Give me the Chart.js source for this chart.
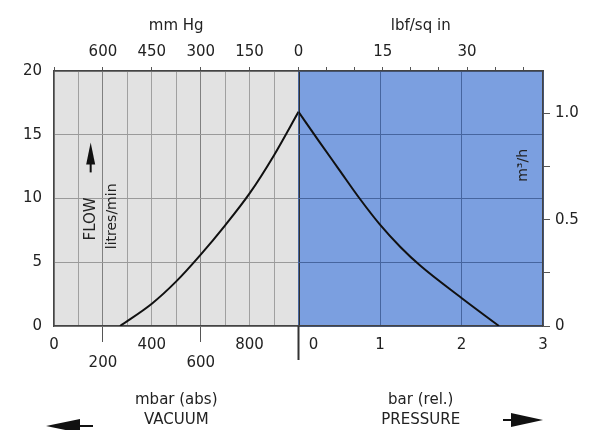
<!DOCTYPE html>
<html>
<head>
<meta charset="utf-8">
<script src="https://cdn.jsdelivr.net/npm/chart.js@4/dist/chart.umd.min.js"></script>
<style>
  html, body { margin: 0; padding: 0; background: #ffffff; }
  #wrap { width: 605px; height: 430px; position: relative; }
</style>
</head>
<body>
<div id="wrap"><canvas id="c" width="605" height="430"></canvas></div>
<script>
// ---- data ----
const vacuumMbar   = [270, 400, 500, 600, 700, 800, 900, 1000];              // mbar (abs)
const vacuumFlow   = [0, 1.75, 3.5, 5.6, 7.9, 10.4, 13.4, 16.8];             // litres/min
const pressureBar  = [0, 0.25, 0.5, 0.75, 1.0, 1.25, 1.5, 2.0, 2.46];        // bar (rel.)
const pressureFlow = [16.8, 14.5, 12.25, 10.0, 7.95, 6.2, 4.7, 2.2, 0];      // litres/min

// ---- tick labels ----
const flowTicks  = [0, 5, 10, 15, 20];
const m3hTicks   = [0, 0.25, 0.5, 0.75, 1.0];
const m3hLabels  = ['0', '', '0.5', '', '1.0'];
const mbarGrid   = [0, 100, 200, 300, 400, 500, 600, 700, 800, 900, 1000];
const mbarUpper  = [0, 400, 800];
const mbarLower  = [200, 600];
const barTicks   = [0, 1, 2, 3];
const mmHgTicks  = [0, 150, 300, 450, 600, 750];
const mmHgLabels = [0, 150, 300, 450, 600];
const psiTicks   = [0, 5, 10, 15, 20, 25, 30, 35, 40];
const psiLabels  = [15, 30];

const FONT = 'DejaVu Sans';
const AX = '#444444';

function gridGradient(c, leftCol, rightCol) {
  const ch = c.chart, a = ch.chartArea;
  if (!a || !ch.scales.xv) return leftCol;
  const xd = ch.scales.xv.getPixelForValue(1000);
  const t = Math.min(1, Math.max(0, (xd - a.left) / (a.right - a.left)));
  const g = ch.ctx.createLinearGradient(a.left, 0, a.right, 0);
  g.addColorStop(0, leftCol); g.addColorStop(t, leftCol);
  g.addColorStop(t, rightCol); g.addColorStop(1, rightCol);
  return g;
}

const decor = {
  id: 'decor',
  beforeDraw(chart) {
    const {ctx, chartArea: a, scales} = chart;
    const xd = scales.xv.getPixelForValue(1000);
    ctx.save();
    ctx.fillStyle = '#e2e2e2';
    ctx.fillRect(a.left, a.top, xd - a.left, a.bottom - a.top);
    ctx.fillStyle = '#7b9fe0';
    ctx.fillRect(xd, a.top, a.right - xd, a.bottom - a.top);
    ctx.restore();
  },
  afterDraw(chart) {
    const {ctx, chartArea: a, scales} = chart;
    const xv = scales.xv, y = scales.y;
    const xd = xv.getPixelForValue(1000);
    ctx.save();
    // divider extension below the axis
    ctx.strokeStyle = '#333';
    ctx.lineWidth = 2;
    ctx.beginPath(); ctx.moveTo(xd, a.bottom); ctx.lineTo(xd, a.bottom + 34); ctx.stroke();

    ctx.fillStyle = '#222';
    ctx.textAlign = 'center';
    ctx.textBaseline = 'middle';
    // FLOW / litres/min rotated label with arrow
    const fx = xv.getPixelForValue(150), fy = y.getPixelForValue(8.4);
    ctx.save();
    ctx.translate(fx, fy); ctx.rotate(-Math.PI / 2);
    ctx.font = '15px "' + FONT + '"';
    ctx.fillText('FLOW', 0, 0);
    ctx.restore();
    const lx = xv.getPixelForValue(240), ly = y.getPixelForValue(8.6);
    ctx.save();
    ctx.translate(lx, ly); ctx.rotate(-Math.PI / 2);
    ctx.font = '14px "' + FONT + '"';
    ctx.fillText('litres/min', 0, 0);
    ctx.restore();
    // up arrow above FLOW
    const tipY = y.getPixelForValue(14.4);
    ctx.fillStyle = '#111';
    ctx.beginPath();
    ctx.moveTo(fx, tipY);
    ctx.lineTo(fx + 4.5, tipY + 22);
    ctx.lineTo(fx - 4.5, tipY + 22);
    ctx.closePath(); ctx.fill();
    ctx.fillRect(fx - 1, tipY + 20, 2, 10);

    // m3/h label inside right edge
    const mx = a.right - 20, my = y.getPixelForValue(12.6);
    ctx.save();
    ctx.translate(mx, my); ctx.rotate(-Math.PI / 2);
    ctx.fillStyle = '#222';
    ctx.font = '14px "' + FONT + '"';
    ctx.fillText('m\u00B3/h', 0, 0);
    ctx.restore();

    // direction arrows at the bottom
    ctx.fillStyle = '#111';
    const ly2 = 426;
    ctx.beginPath();
    ctx.moveTo(a.left - 8, ly2);
    ctx.lineTo(a.left + 26, ly2 - 7);
    ctx.lineTo(a.left + 26, ly2 + 7);
    ctx.closePath(); ctx.fill();
    ctx.fillRect(a.left + 20, ly2 - 1, 19, 2);
    const ry = 420;
    ctx.beginPath();
    ctx.moveTo(a.right, ry);
    ctx.lineTo(a.right - 32, ry - 7);
    ctx.lineTo(a.right - 32, ry + 7);
    ctx.closePath(); ctx.fill();
    ctx.fillRect(a.right - 40, ry - 1, 10, 2);
    ctx.restore();
  }
};

const vacData = vacuumMbar.map((v, i) => ({x: v, y: vacuumFlow[i]}));
const presData = pressureBar.map((v, i) => ({x: v, y: pressureFlow[i]}));

new Chart(document.getElementById('c'), {
  type: 'line',
  data: {
    datasets: [
      { label: 'Vacuum', data: vacData, xAxisID: 'xv', yAxisID: 'y',
        borderColor: '#111', borderWidth: 2, pointRadius: 0,
        cubicInterpolationMode: 'monotone', fill: false },
      { label: 'Pressure', data: presData, xAxisID: 'xp', yAxisID: 'y',
        borderColor: '#111', borderWidth: 2, pointRadius: 0,
        cubicInterpolationMode: 'monotone', fill: false }
    ]
  },
  options: {
    responsive: false,
    animation: false,
    layout: { padding: 0 },
    plugins: { legend: { display: false }, tooltip: { enabled: false } },
    scales: {
      xv: {
        type: 'linear', position: 'bottom', stack: 'bottom', stackWeight: 1,
        min: 0, max: 1000,
        afterBuildTicks: s => { s.ticks = mbarGrid.map(v => ({value: v})); },
        afterFit: s => { s.height = 104; },
        ticks: {
          autoSkip: false, maxRotation: 0, padding: -6, color: '#222',
          font: { family: FONT, size: 15 },
          callback: v => mbarUpper.includes(v) ? [String(v), ''] :
                         mbarLower.includes(v) ? ['', String(v)] : ['', '']
        },
        grid: {
          color: c => c.tick && c.tick.value === 1000 ? '#333' :
                      (c.tick && (c.tick.value === 200 || c.tick.value === 600) ? '#808080' : '#a0a0a0'),
          lineWidth: c => c.tick && c.tick.value === 1000 ? 2 : 1,
          tickLength: 16,
          tickColor: c => c.tick && (c.tick.value === 200 || c.tick.value === 600) ? '#555' : 'rgba(0,0,0,0)'
        },
        border: { display: true, color: AX, width: 1.5 },
        title: { display: true, text: ['mbar (abs)', 'VACUUM'], color: '#222',
                 font: { family: FONT, size: 15, lineHeight: 1.35 }, padding: { top: 0, bottom: 0 } }
      },
      xp: {
        type: 'linear', position: 'bottom', stack: 'bottom', stackWeight: 1,
        min: 0, max: 3,
        afterBuildTicks: s => { s.ticks = barTicks.map(v => ({value: v})); },
        afterFit: s => { s.height = 104; },
        ticks: {
          autoSkip: false, maxRotation: 0, padding: -6, color: '#222',
          font: { family: FONT, size: 15 },
          callback: v => [v === 0 ? '\u2003\u20030' : String(v), '']
        },
        grid: {
          color: '#46659f', tickLength: 16, tickColor: 'rgba(0,0,0,0)'
        },
        border: { display: true, color: AX, width: 1.5 },
        title: { display: true, text: ['bar (rel.)', 'PRESSURE'], color: '#222',
                 font: { family: FONT, size: 15, lineHeight: 1.35 }, padding: { top: 0, bottom: 0 } }
      },
      xpsi: {
        type: 'linear', position: 'top', stack: 'top', stackWeight: 1,
        min: 0, max: 3 * 14.5038,
        afterBuildTicks: s => { s.ticks = psiTicks.map(v => ({value: v})); },
        afterFit: s => { s.height = 71; },
        ticks: {
          autoSkip: false, maxRotation: 0, padding: 6, color: '#222',
          font: { family: FONT, size: 15 },
          callback: v => psiLabels.includes(v) ? String(v) : ''
        },
        grid: { drawOnChartArea: false, tickLength: 4, tickColor: '#555' },
        border: { display: true, color: AX, width: 1.5 },
        title: { display: true, text: 'lbf/sq in', color: '#222',
                 font: { family: FONT, size: 15 }, padding: { top: 17, bottom: 0 } }
      },
      xmm: {
        type: 'linear', position: 'top', stack: 'top', stackWeight: 1,
        min: 0, max: 750, reverse: true,
        afterBuildTicks: s => { s.ticks = mmHgTicks.map(v => ({value: v})); },
        afterFit: s => { s.height = 71; },
        ticks: {
          autoSkip: false, maxRotation: 0, padding: 6, color: '#222',
          font: { family: FONT, size: 15 },
          callback: v => mmHgLabels.includes(v) ? String(v) : ''
        },
        grid: { drawOnChartArea: false, tickLength: 4, tickColor: '#555' },
        border: { display: true, color: AX, width: 1.5 },
        title: { display: true, text: 'mm Hg', color: '#222',
                 font: { family: FONT, size: 15 }, padding: { top: 17, bottom: 0 } }
      },
      y: {
        type: 'linear', position: 'left', min: 0, max: 20,
        afterBuildTicks: s => { s.ticks = flowTicks.map(v => ({value: v})); },
        afterFit: s => { s.width = 54; },
        ticks: { padding: 12, color: '#222', font: { family: FONT, size: 15 } },
        grid: { drawTicks: false, color: c => gridGradient(c, '#9a9a9a', '#46659f') },
        border: { display: true, color: AX, width: 1.5 }
      },
      y2: {
        type: 'linear', position: 'right', min: 0, max: 20 * 60 / 1000,
        afterBuildTicks: s => { s.ticks = m3hTicks.map(v => ({value: v})); },
        afterFit: s => { s.width = 62; },
        ticks: { padding: 5, color: '#222', font: { family: FONT, size: 15 },
                 callback: v => m3hLabels[m3hTicks.indexOf(v)] ?? '' },
        grid: { drawOnChartArea: false, tickLength: 7, tickColor: '#555' },
        border: { display: true, color: AX, width: 1.5 }
      }
    }
  },
  plugins: [decor]
});
</script>
</body>
</html>
